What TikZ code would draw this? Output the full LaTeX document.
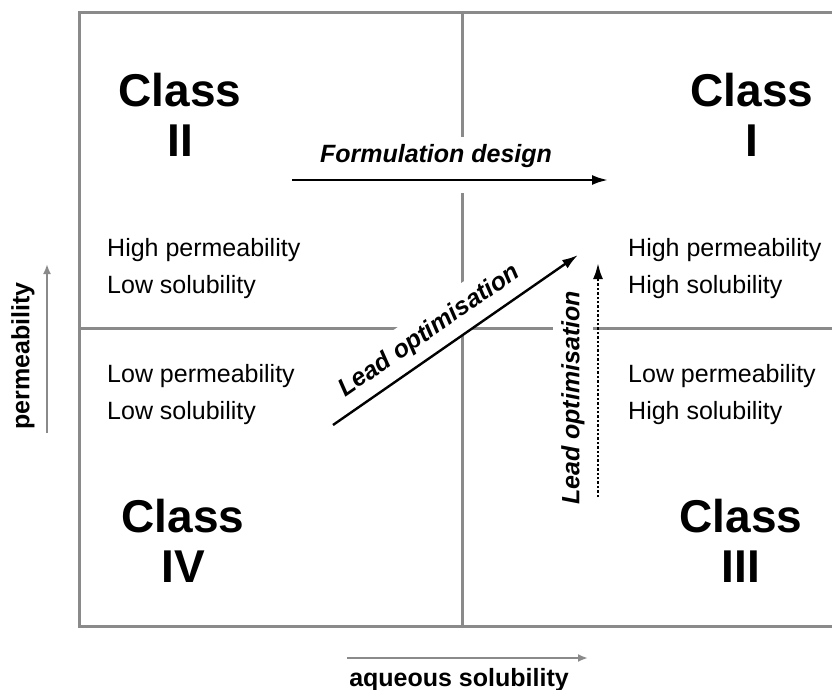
\documentclass[tikz,border=0pt]{standalone}
\usepackage{fontspec}
\setmainfont{Liberation Sans}
\usetikzlibrary{arrows.meta}
\definecolor{gridgray}{HTML}{8A8A8A}

\begin{document}
\begin{tikzpicture}[x=1pt,y=-1pt,
    grid/.style={draw=gridgray,line width=3pt},
    classlbl/.style={align=center,inner sep=0pt,font=\fontsize{46}{50}\selectfont\bfseries},
    desc/.style={align=left,anchor=north west,inner sep=0pt,font=\fontsize{25}{37}\selectfont},
    move/.style={fill=white,font=\fontsize{25}{30}\selectfont\bfseries\itshape},
    axislbl/.style={font=\fontsize{25}{30}\selectfont\bfseries},
    bigarrow/.style={line width=2.4pt,-{Latex[length=16pt,width=10pt]}},
    axisarrow/.style={draw=gridgray,line width=2.6pt,-{Latex[length=10pt,width=8pt]}}]

\useasboundingbox (0,0) rectangle (832,690);

% ===== Grid =====
\draw[grid] (840,13) -- (79,13) -- (79,626) -- (840,626);
\draw[grid] (462,13) -- (462,626);
\draw[grid] (79,328) -- (840,328);

% ===== Class labels =====
\node[classlbl] (cII) at (180,115) {Class\\II};
\node[classlbl] (cI) at (752,115) {Class\\I};
\node[classlbl] (cIV) at (183,541) {Class\\IV};
\node[classlbl] (cIII) at (741,541) {Class\\III};

% ===== Properties =====
\node[desc] (dII) at (107,238) {High permeability\\Low solubility};
\node[desc] (dIV) at (107,364) {Low permeability\\Low solubility};
\node[desc] (dI) at (628,238) {High permeability\\High solubility};
\node[desc] (dIII) at (628,364) {Low permeability\\High solubility};

% ===== Formulation design =====
\coordinate (fdA) at (292,180);
\coordinate (fdB) at (608,180);
\draw[white,line width=26pt] (fdA) -- (fdB);
\node[move,anchor=base,inner sep=7pt] (fd) at (436,162) {Formulation design};
\draw[bigarrow] (fdA) -- (fdB);

% ===== Lead optimisation =====
\coordinate (loA) at (333,425);
\coordinate (loB) at (578,255);
\path (loA) -- node[move,sloped,above,pos=0.445,inner sep=10pt] (lo1) {Lead optimisation} (loB);
\draw[bigarrow] (loA) -- (loB);

\node[move,rotate=90,inner sep=8pt] (lo2) at (573,398) {Lead optimisation};
\coordinate (ldA) at (598,497);
\coordinate (ldB) at (598,263);
\draw[bigarrow,dotted] (ldA) -- (ldB);

% ===== Axes =====
\coordinate (pA) at (47,433);
\coordinate (pB) at (47,264);
\draw[axisarrow] (pA) -- (pB);
\node[axislbl,rotate=90] (perm) at (23,356) {permeability};

\coordinate (sA) at (347,658);
\coordinate (sB) at (588,658);
\draw[axisarrow] (sA) -- (sB);
\node[axislbl,anchor=base] (sol) at (459,686) {aqueous solubility};

\end{tikzpicture}
\end{document}
